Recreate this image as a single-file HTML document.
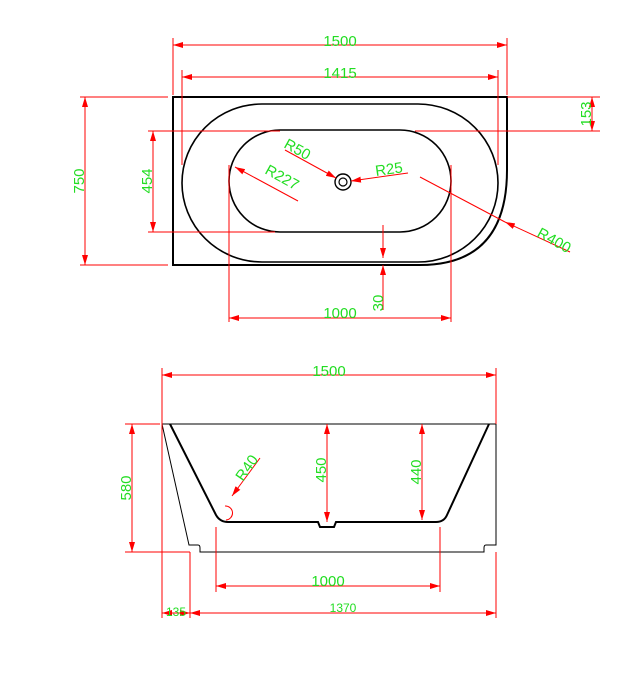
<!DOCTYPE html>
<html><head><style>body{margin:0;background:#fff}svg{display:block}text{font-family:"Liberation Sans",sans-serif;font-size:15px;fill:#22dd22}</style></head><body>
<svg width="622" height="700" viewBox="0 0 622 700" xmlns="http://www.w3.org/2000/svg">
<defs><marker id="a" viewBox="0 0 10 6" refX="10" refY="3" markerWidth="10" markerHeight="6" orient="auto-start-reverse" markerUnits="userSpaceOnUse"><path d="M0,0L10,3L0,6z" fill="#f00"/></marker></defs>
<g fill="none" stroke="#000" stroke-width="2">
<path d="M173,97H507V170Q507,265 420,265H173Z"/>
<rect x="182" y="104" width="316" height="158" rx="80" ry="79" stroke-width="1.6"/>
<rect x="229" y="130" width="222" height="102" rx="51" ry="51" stroke-width="1.6"/>
<circle cx="343" cy="182" r="8" stroke-width="1.4"/><circle cx="343" cy="182" r="4" stroke-width="1.2"/>
</g>
<g stroke="#f00" stroke-width="1" fill="none">
<line x1="173" y1="38" x2="173" y2="95"/><line x1="507" y1="38" x2="507" y2="95"/>
<line x1="173" y1="45" x2="507" y2="45" marker-start="url(#a)" marker-end="url(#a)"/>
<line x1="182" y1="70" x2="182" y2="165"/><line x1="498" y1="70" x2="498" y2="165"/>
<line x1="182" y1="77" x2="498" y2="77" marker-start="url(#a)" marker-end="url(#a)"/>
<line x1="80" y1="97" x2="168" y2="97"/><line x1="80" y1="265" x2="168" y2="265"/>
<line x1="85" y1="97" x2="85" y2="265" marker-start="url(#a)" marker-end="url(#a)"/>
<line x1="148" y1="131" x2="280" y2="131"/><line x1="148" y1="232" x2="275" y2="232"/>
<line x1="153" y1="131" x2="153" y2="232" marker-start="url(#a)" marker-end="url(#a)"/>
<line x1="507" y1="97" x2="600" y2="97"/><line x1="415" y1="131" x2="600" y2="131"/>
<line x1="592" y1="97" x2="592" y2="131" marker-start="url(#a)" marker-end="url(#a)"/>
<line x1="229" y1="165" x2="229" y2="322"/><line x1="451" y1="165" x2="451" y2="322"/>
<line x1="229" y1="318" x2="451" y2="318" marker-start="url(#a)" marker-end="url(#a)"/>
<line x1="383" y1="225" x2="383" y2="258" marker-end="url(#a)"/>
<line x1="383" y1="310" x2="383" y2="265" marker-end="url(#a)"/>
<line x1="285" y1="150" x2="336" y2="178" marker-end="url(#a)"/>
<line x1="298" y1="201" x2="235" y2="167" marker-end="url(#a)"/>
<line x1="408" y1="173" x2="351" y2="181" marker-end="url(#a)"/>
<line x1="570" y1="252" x2="505" y2="222" marker-end="url(#a)"/>
<line x1="505" y1="222" x2="420" y2="177"/>
</g>
<text x="340" y="46" text-anchor="middle">1500</text>
<text x="340" y="78" text-anchor="middle">1415</text>
<text x="340" y="318" text-anchor="middle">1000</text>
<text transform="translate(84,181) rotate(-90)" text-anchor="middle">750</text>
<text transform="translate(152,181) rotate(-90)" text-anchor="middle">454</text>
<text transform="translate(591,114) rotate(-90)" text-anchor="middle">153</text>
<text transform="translate(383,303) rotate(-90)" text-anchor="middle">30</text>
<text transform="translate(283,147) rotate(29)">R50</text>
<text transform="translate(264,173) rotate(29)">R227</text>
<text transform="translate(376,176) rotate(-8)">R25</text>
<text transform="translate(536,236) rotate(29)">R400</text>
<g fill="none" stroke="#000" stroke-width="1">
<path d="M162,424H496V545H486Q484,545 484,548V552H200V548Q200,545 198,545H189L162,424"/>
<path d="M170,424L216,515Q220,522 228,522L318,522L320,527H334L336,522L436,522Q444,522 447,515L489,424" stroke-width="2"/>
</g>
<g stroke="#f00" stroke-width="1" fill="none">
<line x1="162" y1="368" x2="162" y2="618"/><line x1="496" y1="368" x2="496" y2="424"/>
<line x1="162" y1="375" x2="496" y2="375" marker-start="url(#a)" marker-end="url(#a)"/>
<line x1="125" y1="424" x2="160" y2="424"/><line x1="125" y1="552" x2="190" y2="552"/>
<line x1="132" y1="424" x2="132" y2="552" marker-start="url(#a)" marker-end="url(#a)"/>
<line x1="327" y1="424" x2="327" y2="522" marker-start="url(#a)" marker-end="url(#a)"/>
<line x1="422" y1="424" x2="422" y2="520" marker-start="url(#a)" marker-end="url(#a)"/>
<line x1="260" y1="458" x2="232" y2="496" marker-end="url(#a)"/>
<path d="M225,506A6,6 0 1 1 226,520"/>
<line x1="216" y1="527" x2="216" y2="592"/><line x1="440" y1="527" x2="440" y2="592"/>
<line x1="216" y1="586" x2="440" y2="586" marker-start="url(#a)" marker-end="url(#a)"/>
<line x1="190" y1="552" x2="190" y2="618"/><line x1="496" y1="552" x2="496" y2="618"/>
<line x1="162" y1="613" x2="190" y2="613" marker-start="url(#a)" marker-end="url(#a)"/>
<line x1="190" y1="613" x2="496" y2="613" marker-start="url(#a)" marker-end="url(#a)"/>
</g>
<text x="329" y="376" text-anchor="middle">1500</text>
<text x="328" y="586" text-anchor="middle">1000</text>
<text x="176" y="616" text-anchor="middle" style="font-size:12px">135</text>
<text x="343" y="612" text-anchor="middle" style="font-size:12px">1370</text>
<text transform="translate(131,488) rotate(-90)" text-anchor="middle">580</text>
<text transform="translate(326,470) rotate(-90)" text-anchor="middle">450</text>
<text transform="translate(421,472) rotate(-90)" text-anchor="middle">440</text>
<text transform="translate(243,482) rotate(-55)">R40</text>
</svg>
</body></html>
